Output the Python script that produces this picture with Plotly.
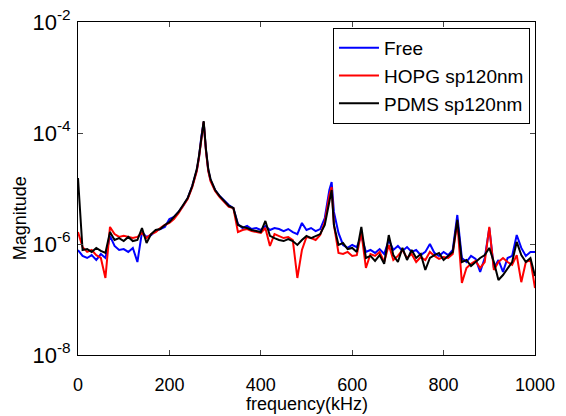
import plotly.graph_objects as go

freq = [0, 10, 20, 30, 40, 50, 60, 70, 80, 90, 100, 110, 120, 130, 140, 150, 160, 170, 180, 190,
        200, 210, 220, 230, 240, 250, 260, 265, 270, 275, 280, 285, 290, 300, 310, 320, 330, 340,
        350, 360, 370, 380, 390, 400, 410, 420, 430, 440, 450, 460, 470, 480, 490, 500, 510, 520,
        530, 540, 550, 555, 560, 570, 580, 590, 600, 610, 620, 630, 640, 650, 660, 670, 680, 690,
        700, 710, 720, 730, 740, 750, 760, 770, 780, 790, 800, 810, 820, 830, 840, 850, 860, 870,
        880, 890, 900, 910, 920, 930, 940, 950, 960, 970, 980, 990, 1000]

free = [7.8e-7, 6.1e-7, 5.6e-7, 6.3e-7, 5.15e-7, 6.6e-7, 5.6e-7, 1.40e-6, 9.2e-7, 7.8e-7,
        8.1e-7, 7.2e-7, 8.5e-7, 4.74e-7, 1.64e-6, 1.34e-6, 1.45e-6, 1.71e-6, 1.86e-6, 2.03e-6,
        2.83e-6, 3.06e-6, 3.78e-6, 4.85e-6, 6.7e-6, 1.11e-5, 2.15e-5, 3.8e-5, 8.8e-5, 1.58e-4,
        4.9e-5, 2.15e-5, 1.42e-5, 9.4e-6, 7.3e-6, 6.0e-6, 5.05e-6, 4.45e-6,
        2.29e-6, 1.94e-6, 2.11e-6, 1.86e-6, 1.94e-6, 1.79e-6, 2.11e-6, 1.79e-6, 1.94e-6, 1.86e-6,
        1.71e-6, 1.86e-6, 1.64e-6, 1.51e-6, 2.39e-6, 1.79e-6, 1.94e-6, 1.71e-6,
        1.86e-6, 2.94e-6, 9.4e-6, 1.31e-5, 3.78e-6, 1.58e-6, 9.6e-7, 8.5e-7, 9.6e-7, 8.8e-7,
        1.40e-6, 7.2e-7, 7.8e-7, 6.9e-7, 8.1e-7, 6.6e-7, 1.18e-6, 7.8e-7,
        9.2e-7, 7.5e-7, 8.8e-7, 7.2e-7, 7.8e-7, 6.3e-7, 7.2e-7, 1.0e-6, 6.9e-7, 6.1e-7,
        7.2e-7, 6.3e-7, 7.8e-7, 3.33e-6, 5.6e-7, 4.74e-7, 6.1e-7, 5.4e-7,
        3.15e-7, 5.6e-7, 1.94e-6, 3.7e-7, 5.15e-7, 3.15e-7, 5.6e-7, 6.1e-7, 1.45e-6, 8.5e-7,
        6.1e-7, 7.2e-7, 7.2e-7]

hopg = [1.64e-6, 8.8e-7, 7.2e-7, 7.8e-7, 6.3e-7, 5.6e-7, 2.44e-7, 2.03e-6, 1.51e-6, 1.34e-6,
        1.40e-6, 1.34e-6, 1.28e-6, 1.34e-6, 1.58e-6, 1.28e-6, 1.51e-6, 1.64e-6, 1.94e-6, 2.20e-6,
        2.39e-6, 2.82e-6, 3.6e-6, 4.84e-6, 6.45e-6, 1.06e-5, 2.06e-5, 3.7e-5, 8.5e-5, 1.58e-4,
        4.7e-5, 2.06e-5, 1.36e-5, 9.0e-6, 7.0e-6, 5.75e-6, 4.65e-6, 4.45e-6,
        1.64e-6, 1.79e-6, 1.86e-6, 1.71e-6, 1.64e-6, 1.58e-6, 1.94e-6, 9.2e-7, 1.51e-6, 1.40e-6,
        1.28e-6, 1.34e-6, 1.18e-6, 2.44e-7, 7.8e-7, 1.34e-6, 1.28e-6, 1.18e-6,
        1.45e-6, 2.49e-6, 7.6e-6, 1.06e-5, 2.20e-6, 6.9e-7, 6.6e-7, 7.2e-7, 6.1e-7, 6.3e-7,
        1.64e-6, 3.7e-7, 6.6e-7, 6.1e-7, 7.2e-7, 4.74e-7, 9.6e-7, 5.15e-7,
        6.1e-7, 7.8e-7, 5.6e-7, 6.6e-7, 4.74e-7, 5.8e-7, 5.15e-7, 7.2e-7, 6.1e-7, 5.4e-7,
        5.8e-7, 5.6e-7, 6.6e-7, 2.49e-6, 1.98e-7, 3.7e-7, 4.4e-7, 4.95e-7,
        3.7e-7, 4.74e-7, 2.03e-6, 3.4e-7, 4.74e-7, 5.6e-7, 4.74e-7, 4.2e-7, 6.3e-7, 2.05e-7,
        4.74e-7, 5.15e-7, 1.61e-7]

pdms = [1.55e-5, 7.8e-7, 8.1e-7, 7.2e-7, 8.5e-7, 7.5e-7, 6.9e-7, 1.64e-6, 1.18e-6, 1.28e-6,
        1.13e-6, 1.34e-6, 1.13e-6, 1.18e-6, 1.94e-6, 1.04e-6, 1.51e-6, 1.79e-6, 1.86e-6, 2.20e-6,
        2.49e-6, 3.06e-6, 3.78e-6, 5.05e-6, 6.7e-6, 1.11e-5, 2.24e-5, 4.0e-5, 9.2e-5, 1.64e-4,
        5.1e-5, 2.24e-5, 1.48e-5, 9.4e-6, 7.3e-6, 6.0e-6, 4.84e-6, 4.45e-6,
        2.20e-6, 2.03e-6, 1.94e-6, 1.79e-6, 1.71e-6, 1.64e-6, 2.60e-6, 1.40e-6, 1.28e-6, 1.18e-6,
        1.13e-6, 1.23e-6, 1.13e-6, 9.6e-7, 1.18e-6, 1.40e-6, 1.28e-6, 1.40e-6,
        1.51e-6, 2.20e-6, 6.2e-6, 9.4e-6, 2.20e-6, 9.6e-7, 1.04e-6, 8.1e-7, 8.5e-7, 7.2e-7,
        2.03e-6, 5.6e-7, 6.1e-7, 4.95e-7, 6.3e-7, 4.4e-7, 1.45e-6, 6.3e-7,
        4.74e-7, 8.5e-7, 5.15e-7, 7.8e-7, 5.6e-7, 6.6e-7, 3.4e-7, 5.6e-7, 6.3e-7, 6.9e-7,
        5.15e-7, 6.1e-7, 7.2e-7, 2.71e-6, 4.74e-7, 5.15e-7, 4.0e-7, 4.74e-7,
        5.6e-7, 6.3e-7, 8.5e-7, 4.74e-7, 2.25e-7, 2.76e-7, 3.7e-7, 4.74e-7, 1.09e-6, 6.3e-7,
        4.74e-7, 5.6e-7, 2.65e-7]

assert len(freq) == len(free) == len(hopg) == len(pdms), (len(freq), len(free), len(hopg), len(pdms))

series_names = ["Free", "HOPG sp120nm", "PDMS sp120nm"]
x_ticks = [0, 200, 400, 600, 800, 1000]
y_tickvals = [1e-8, 1e-6, 1e-4, 1e-2]
y_ticktext = ["10<sup>-8</sup>", "10<sup>-6</sup>", "10<sup>-4</sup>", "10<sup>-2</sup>"]

FONT = "Liberation Sans, Arial, sans-serif"

fig = go.Figure()
for name, vals, col in zip(series_names, [free, hopg, pdms], ["#0000FF", "#FF0000", "#000000"]):
    fig.add_trace(go.Scatter(x=freq, y=vals, mode="lines", name=name,
                             line=dict(color=col, width=2)))

fig.update_layout(
    width=566, height=416,
    margin=dict(l=78, r=31, t=22, b=61),
    paper_bgcolor="white", plot_bgcolor="white",
    font=dict(family=FONT, size=18, color="black"),
    showlegend=True,
    legend=dict(x=0.989, y=0.982, xanchor="right", yanchor="top",
                bordercolor="black", borderwidth=1, bgcolor="white",
                font=dict(family=FONT, size=19), tracegroupgap=0,
                itemwidth=40),
    annotations=[
        dict(text="frequency(kHz)", x=0.5, y=-0.147, xref="paper", yref="paper",
             xanchor="center", yanchor="middle", showarrow=False,
             font=dict(family=FONT, size=18)),
        dict(text="Magnitude", x=-0.125, y=0.41, xref="paper", yref="paper",
             xanchor="center", yanchor="middle", showarrow=False, textangle=-90,
             font=dict(family=FONT, size=18)),
    ],
)
fig.update_xaxes(range=[0, 1000], tickvals=x_ticks, ticks="inside", ticklen=5,
                 showline=True, linecolor="black", linewidth=1, mirror="ticks",
                 showgrid=False, zeroline=False, ticklabelstandoff=13, automargin=False,
                 tickfont=dict(family=FONT, size=18))
fig.update_yaxes(type="log", range=[-8, -2], tickvals=y_tickvals, ticktext=y_ticktext,
                 ticks="inside", ticklen=5, showline=True, linecolor="black", linewidth=1,
                 mirror="ticks", showgrid=False, zeroline=False, ticklabelstandoff=2,
                 automargin=False, tickfont=dict(family=FONT, size=22))

# remove the default 8px page margin so the figure sits at the window's corner
fig.write_html("out.html", config={"displayModeBar": False},
               post_script="document.body.style.margin='0';")
